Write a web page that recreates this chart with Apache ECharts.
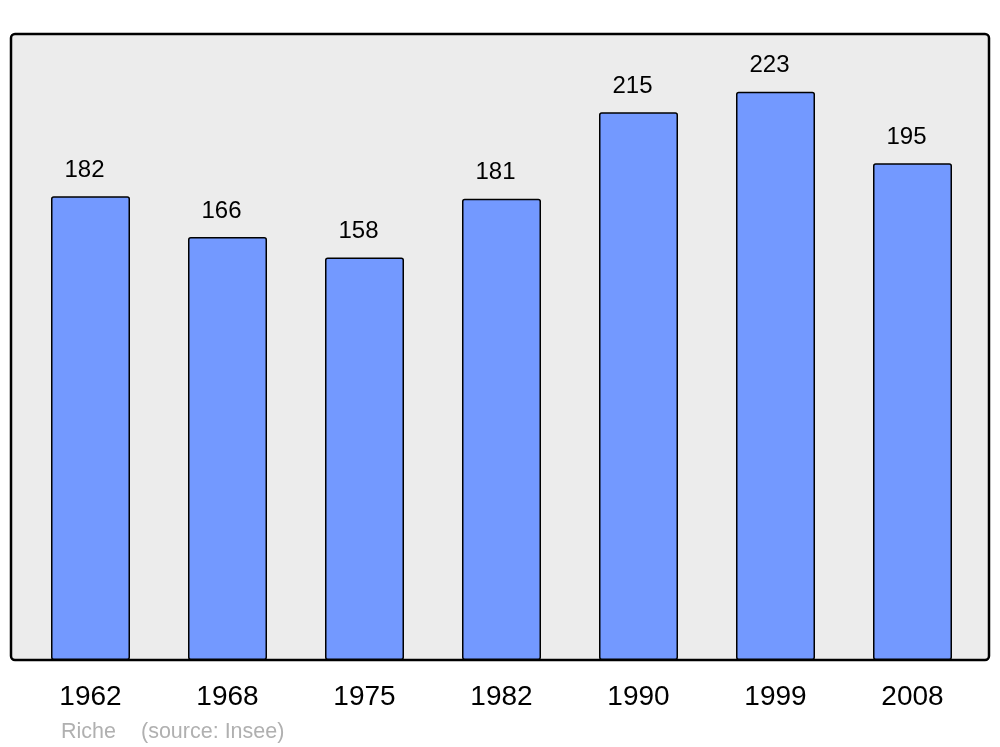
<!DOCTYPE html>
<html>
<head>
<meta charset="utf-8">
<script src="https://cdn.jsdelivr.net/npm/echarts@6/dist/echarts.min.js"></script>
<style>html,body{margin:0;padding:0;background:#fff}#c{width:1000px;height:747px}</style>
</head>
<body>
<div id="c"></div>
<script>
var years = ['1962', '1968', '1975', '1982', '1990', '1999', '2008'];
var population = [182, 166, 158, 181, 215, 223, 195];
var placeName = 'Riche';
var sourceText = '(source: Insee)';

var chart = echarts.init(document.getElementById('c'), null, {renderer: 'canvas'});
chart.setOption({
  animation: false,
  backgroundColor: '#ffffff',
  grid: {left: 22, right: 19, top: 23, bottom: 87},
  graphic: [
    {type: 'rect', z: -10, shape: {x: 11, y: 34, width: 978, height: 626, r: 4},
     style: {fill: '#ececec', stroke: '#000', lineWidth: 2.5}},
    {type: 'text', left: 61, top: 721, style: {text: placeName, fill: '#b0b0b0', font: '21.5px "Liberation Sans", Arial, sans-serif'}},
    {type: 'text', left: 141, top: 721, style: {text: sourceText, fill: '#b0b0b0', font: '21.5px "Liberation Sans", Arial, sans-serif'}}
  ],
  xAxis: {
    type: 'category', data: years,
    axisLine: {show: false}, axisTick: {show: false},
    axisLabel: {color: '#000', fontSize: 28, fontFamily: '"Liberation Sans", Arial, sans-serif', margin: 23}
  },
  yAxis: {
    type: 'value', min: 0, max: 250, show: false, splitLine: {show: false}
  },
  series: [{
    type: 'bar', data: population, barWidth: 79,
    itemStyle: {color: '#7399ff', borderColor: '#000', borderWidth: 1.5, borderRadius: 2},
    label: {show: true, position: 'top', distance: 14, offset: [-6, 0], color: '#000', fontSize: 24,
            fontFamily: '"Liberation Sans", Arial, sans-serif'}
  }]
});
</script>
</body>
</html>
